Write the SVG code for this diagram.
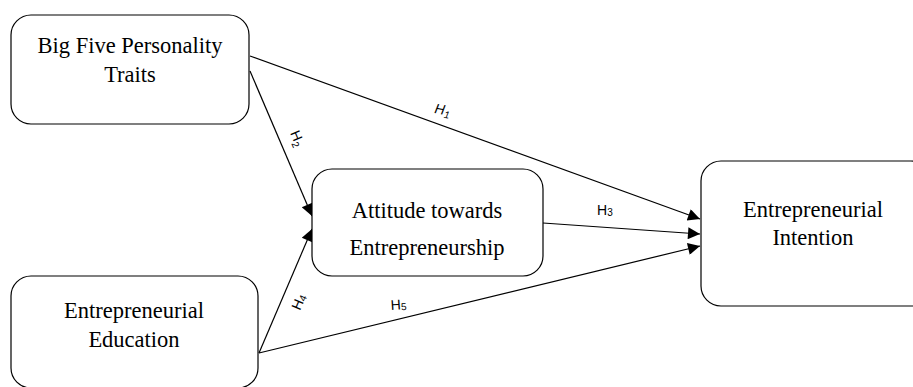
<svg xmlns="http://www.w3.org/2000/svg" width="913" height="387" viewBox="0 0 913 387">
<style>
.box{fill:#fff;stroke:#000;stroke-width:1.2}
.t{font-family:"Liberation Serif","Times New Roman",serif;font-size:22.5px;fill:#000;text-anchor:middle}
.c{stroke:#000;stroke-width:1.2;fill:none;marker-end:url(#ah)}
.l{font-family:"Liberation Sans",Arial,sans-serif;font-size:14px;fill:#000}
.s{font-size:10px}
</style>
<defs>
<marker id="ah" viewBox="0 0 10 10" refX="10" refY="5" markerWidth="14" markerHeight="12" markerUnits="userSpaceOnUse" orient="auto">
<path d="M0,0 L10,5 L0,10 Z" fill="#000"/>
</marker>
</defs>
<rect width="913" height="387" fill="#fff"/>
<g id="connectors">
<line class="c" x1="250" y1="56" x2="700" y2="219"/>
<line class="c" x1="250" y1="71" x2="312" y2="216"/>
<line class="c" x1="543" y1="223" x2="700" y2="234"/>
<line class="c" x1="259" y1="353" x2="312" y2="229"/>
<line class="c" x1="259" y1="353" x2="700" y2="246"/>
<text class="l" transform="translate(434,113) rotate(10)" font-style="italic">H<tspan class="s" dy="3">1</tspan></text>
<text class="l" transform="translate(290,133) rotate(67)">H<tspan class="s" dy="3">2</tspan></text>
<text class="l" x="597" y="215">H<tspan class="s" dy="1">3</tspan></text>
<text class="l" transform="translate(300,311) rotate(-67)">H<tspan class="s" dy="1">4</tspan></text>
<text class="l" transform="translate(391,310) rotate(-4)">H<tspan class="s" dy="1">5</tspan></text>
</g>
<g id="big-five">
<rect class="box" x="11" y="15" width="238" height="109" rx="20"/>
<text class="t" x="130" y="53">Big Five Personality</text>
<text class="t" x="130" y="82">Traits</text>
</g>
<g id="attitude">
<rect class="box" x="312" y="169" width="231" height="107" rx="20"/>
<text class="t" x="427" y="218">Attitude towards</text>
<text class="t" x="427" y="255">Entrepreneurship</text>
</g>
<g id="education">
<rect class="box" x="11" y="276" width="247" height="112" rx="20"/>
<text class="t" x="134" y="318">Entrepreneurial</text>
<text class="t" x="134" y="347">Education</text>
</g>
<g id="intention">
<rect class="box" x="701" y="161" width="230" height="145" rx="20"/>
<text class="t" x="813" y="217">Entrepreneurial</text>
<text class="t" x="813" y="245">Intention</text>
</g>
</svg>
